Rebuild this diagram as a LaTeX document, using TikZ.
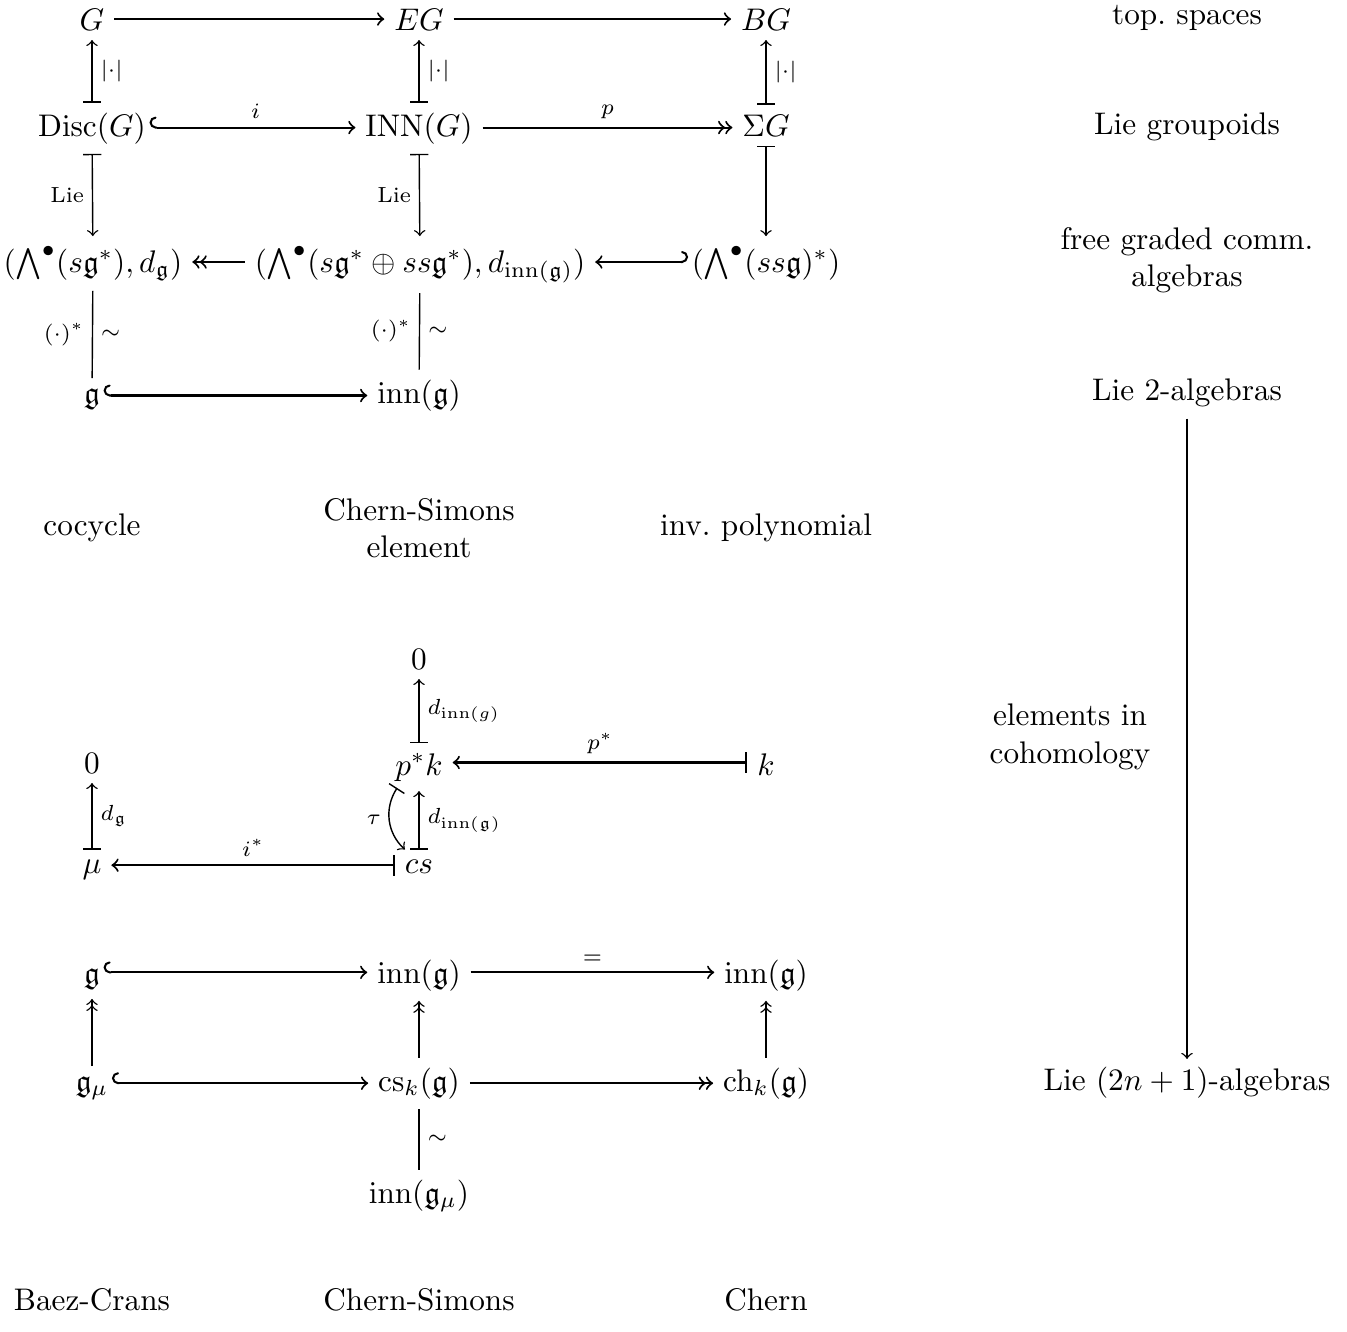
\documentclass[tikz,border=0pt]{standalone}
\usepackage{amsmath,amssymb}
\usetikzlibrary{arrows}
\begin{document}
\begin{tikzpicture}[x=0.32pt,y=-0.32pt,
  obj/.style={inner sep=3pt, anchor=base},
  txt/.style={inner sep=0pt, align=center},
  ar/.style={line width=0.45pt, ->},
  har/.style={line width=0.65pt, ->},
  ln/.style={line width=0.45pt},
  lab/.style={font=\scriptsize, inner sep=2.5pt}]
\useasboundingbox (0,0) rectangle (1347,1331);
% ---------- top diagram ----------
\node[obj] (G)   at (92,30)  {$G$};
\node[obj] (EG)  at (419,30) {$EG$};
\node[obj] (BG)  at (766,30) {$BG$};
\node[obj] (Disc) at (92,136) {$\mathrm{Disc}(G)$};
\node[obj] (INN)  at (419,136) {$\mathrm{INN}(G)$};
\node[obj] (SG)   at (766,136) {$\Sigma G$};
\node[obj] (Wg)   at (93,272) {$(\bigwedge^\bullet(s\mathfrak{g}^*),d_{\mathfrak{g}})$};
\node[obj] (Winn) at (420,272) {$(\bigwedge^\bullet(s\mathfrak{g}^*\oplus ss\mathfrak{g}^*),d_{\mathrm{inn}(\mathfrak{g})})$};
\node[obj] (Wss)  at (766,272) {$(\bigwedge^\bullet(ss\mathfrak{g})^*)$};
\node[obj] (g1)   at (92,403) {$\mathfrak{g}$};
\node[obj] (inn1) at (419,403) {$\mathrm{inn}(\mathfrak{g})$};

\draw[har] ([yshift=3.5pt]G.base east) -- ([yshift=3.5pt]EG.base west);
\draw[har] ([yshift=3.5pt]EG.base east) -- ([yshift=3.5pt]BG.base west);
\draw[ar,|->] (Disc) -- node[lab,right]{$|{\cdot}|$} (G);
\draw[ar,|->] (INN) -- node[lab,right]{$|{\cdot}|$} (EG);
\draw[ar,|->] (SG) -- node[lab,right]{$|{\cdot}|$} (BG);
\draw[har,right hook->,shorten <=-2pt] ([yshift=2.7pt]Disc.base east) -- node[lab,above]{$i$} ([yshift=2.7pt]INN.base west);
\draw[har,->>] ([yshift=2.7pt]INN.base east) -- node[lab,above]{$p$} ([yshift=2.7pt]SG.base west);
\draw[ar,|->] (Disc) -- node[lab,left]{Lie} (Wg);
\draw[ar,|->] (INN) -- node[lab,left]{Lie} (Winn);
\draw[ar,|->] (SG) -- (Wss);
\draw[har,->>] ([yshift=3.2pt]Winn.base west) -- ([yshift=3.2pt]Wg.base east);
\draw[har,left hook->,shorten <=-2pt] ([yshift=3.2pt]Wss.base west) -- ([yshift=3.2pt]Winn.base east);
\draw[ln] (Wg) -- node[lab,left]{$(\cdot)^*$} node[lab,right]{$\sim$} (g1);
\draw[ln] (Winn) -- node[lab,left]{$(\cdot)^*$} node[lab,right]{$\sim$} (inn1);
\draw[har,right hook->,shorten <=-2pt] ([yshift=2.4pt]g1.base east) -- ([yshift=2.4pt]inn1.base west);

% right column
\node[txt] (tsp) at (1187,18)  {top.\ spaces};
\node[txt] (lgr) at (1187,127) {Lie groupoids};
\node[txt] (fgc) at (1187,260) {free graded comm.\\algebras};
\node[txt] (l2a) at (1187,393) {Lie 2-algebras};
\node[txt] (eic) at (1070,737) {elements in\\cohomology};
\node[txt] (l2n) at (1187,1083) {Lie $(2n+1)$-algebras};
\draw[ar,shorten <=3.5pt,shorten >=2.5pt] (l2a) -- (l2n);

\node[txt] (coc) at (92,528)  {cocycle};
\node[txt] (cse) at (419,528) {Chern-Simons\\element};
\node[txt] (inv) at (766,528) {inv.\ polynomial};

% ---------- middle diagram ----------
\node[obj] (z1) at (419,669) {$0$};
\node[obj] (pk) at (419,775) {$p^*k$};
\node[obj] (k)  at (766,775) {$k$};
\node[obj] (z2) at (92,773)  {$0$};
\node[obj] (mu) at (92,873)  {$\mu$};
\node[obj] (cs) at (419,873) {$cs$};
\draw[ar,|->] (pk) -- node[lab,right]{$d_{\mathrm{inn}(g)}$} (z1);
\draw[har,|->] ([yshift=4pt]k.base west) -- node[lab,above]{$p^*$} ([yshift=4pt]pk.base east);
\draw[ar,|->] (mu) -- node[lab,right]{$d_{\mathfrak{g}}$} (z2);
\draw[har,|->] ([yshift=2.5pt]cs.base west) -- node[lab,above]{$i^*$} ([yshift=2.5pt]mu.base east);
\draw[ar,|->] (cs) -- node[lab,right]{$d_{\mathrm{inn}(\mathfrak{g})}$} (pk);
\draw[ar,|->] ([xshift=-7pt,yshift=1pt]pk.south) to[bend right=40] node[lab,left]{$\tau$} ([xshift=-4.5pt]cs.north);

% ---------- bottom diagram ----------
\node[obj] (g2)   at (92,983)   {$\mathfrak{g}$};
\node[obj] (inn2) at (419,983)  {$\mathrm{inn}(\mathfrak{g})$};
\node[obj] (inn3) at (766,983)  {$\mathrm{inn}(\mathfrak{g})$};
\node[obj] (gmu)  at (92,1091)  {$\mathfrak{g}_\mu$};
\node[obj] (csk)  at (419,1091) {$\mathrm{cs}_k(\mathfrak{g})$};
\node[obj] (chk)  at (766,1091) {$\mathrm{ch}_k(\mathfrak{g})$};
\node[obj] (inng) at (419,1203) {$\mathrm{inn}(\mathfrak{g}_\mu)$};
\draw[har,right hook->,shorten <=-2pt] ([yshift=3.4pt]g2.base east) -- ([yshift=3.4pt]inn2.base west);
\draw[har] ([yshift=3.4pt]inn2.base east) -- node[lab,above]{$=$} ([yshift=3.4pt]inn3.base west);
\draw[har,right hook->,shorten <=-2pt] ([yshift=2.5pt]gmu.base east) -- ([yshift=2.5pt]csk.base west);
\draw[har,->>] ([yshift=2.5pt]csk.base east) -- ([yshift=2.5pt]chk.base west);
\draw[ar,->>] (gmu) -- (g2);
\draw[ar,->>] (csk) -- (inn2);
\draw[ar,->>] (chk) -- (inn3);
\draw[ln] (inng) -- node[lab,right]{$\sim$} (csk);

\node[txt] (bc)  at (92,1300)  {Baez-Crans};
\node[txt] (cs2) at (419,1300) {Chern-Simons};
\node[txt] (ch)  at (766,1300) {Chern};
\end{tikzpicture}
\end{document}
